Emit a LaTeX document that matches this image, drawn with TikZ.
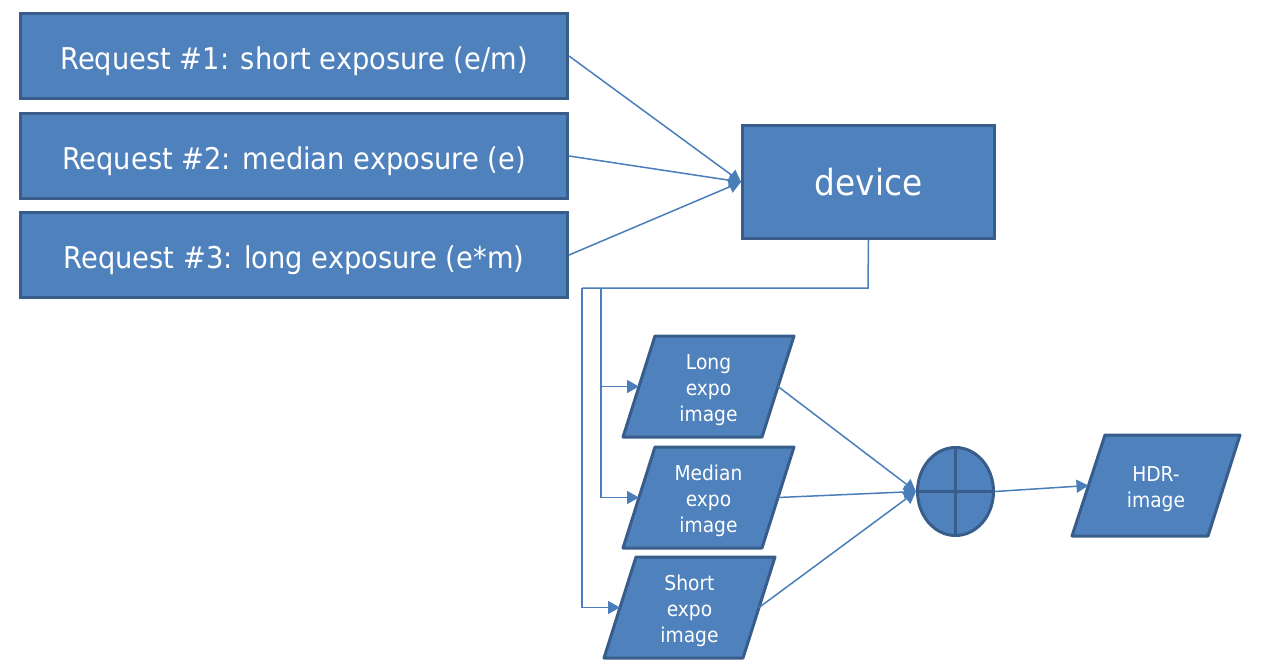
\documentclass[tikz,border=0pt]{standalone}
\usepackage{fontspec}
\setmainfont{DejaVu Sans}[FakeStretch=0.91]
\usetikzlibrary{arrows.meta,shapes.geometric}
\definecolor{fillblue}{HTML}{4F81BD}
\definecolor{edgeblue}{HTML}{385D8A}
\definecolor{linkblue}{HTML}{4A7EBB}
\begin{document}
\begin{tikzpicture}[x=1pt,y=-1pt,
  reqbox/.style={draw=edgeblue,fill=fillblue,line width=3pt,minimum width=547pt,minimum height=85pt,
    text=white,font=\fontsize{30}{36}\selectfont,inner sep=0pt,text height=26pt,text depth=0pt},
  devbox/.style={draw=edgeblue,fill=fillblue,line width=3pt,minimum width=252pt,minimum height=113pt,
    text=white,font=\fontsize{36}{42}\selectfont,inner sep=0pt},
  pshape/.style={draw=edgeblue,fill=fillblue,line width=3pt,line join=round},
  ptext/.style={text=white,font=\fontsize{20.5}{26}\selectfont,align=center,inner sep=0pt},
  sumnode/.style={ellipse,draw=edgeblue,fill=fillblue,line width=3pt,minimum width=76pt,minimum height=88pt,inner sep=0pt},
  link/.style={draw=linkblue,line width=1.5pt},
  arr/.style={link,-{Triangle[length=12pt,width=13pt]}}
]
\useasboundingbox (0,0) rectangle (1270,670);

% request boxes
\node[reqbox] (r1) at (294,56) {Request \#1: short exposure (e/m)};
\node[reqbox] (r2) at (294,156) {Request \#2: median exposure (e)};
\node[reqbox] (r3) at (294,255) {Request \#3: long exposure (e*m)};

% device
\node[devbox] (dev) at (868.5,182) {device};

% parallelograms
\draw[pshape] (655,336) -- (794,336) -- (762,437) -- (623,437) -- cycle;
\node[ptext] (long) at (708.5,390) {Long\\expo\\image};
\coordinate (long-l) at (639,386.5);
\coordinate (long-r) at (778,386.5);

\draw[pshape] (655,447) -- (794,447) -- (762,548) -- (623,548) -- cycle;
\node[ptext] (med) at (708.5,501) {Median\\expo\\image};
\coordinate (med-l) at (639,497.5);
\coordinate (med-r) at (778,497.5);

\draw[pshape] (636,557) -- (775,557) -- (743,658) -- (604,658) -- cycle;
\node[ptext] (short) at (689.5,611) {Short\\expo\\image};
\coordinate (short-l) at (620,607.5);
\coordinate (short-r) at (759,607.5);

\draw[pshape] (1105,435) -- (1240,435) -- (1208,536) -- (1072,536) -- cycle;
\node[ptext] (hdr) at (1156,489) {HDR-\\image};
\coordinate (hdr-l) at (1088.5,485.5);

% sum node
\node[sumnode] (sum) at (955.5,491.5) {};
\draw[edgeblue,line width=3pt] (sum.north) -- (sum.south);
\draw[edgeblue,line width=3pt] (sum.west) -- (sum.east);

% connectors request -> device
\draw[arr] (r1.east) -- (dev.west);
\draw[arr] (r2.east) -- (dev.west);
\draw[arr] (r3.east) -- (dev.west);

% device -> images
\coordinate (j1) at (868,288);
\coordinate (j2) at (601,288);
\coordinate (j3) at (582,288);
\draw[link] (dev.south) -- (j1) -- (j3);
\draw[arr] (j2) |- (long-l);
\draw[arr] (j2) |- (med-l);
\draw[arr] (j3) |- (short-l);

% images -> sum
\draw[arr] (long-r) -- (sum.west);
\draw[arr] (med-r) -- (sum.west);
\draw[arr] (short-r) -- (sum.west);

% sum -> hdr
\draw[arr] (sum.east) -- (hdr-l);
\end{tikzpicture}
\end{document}
